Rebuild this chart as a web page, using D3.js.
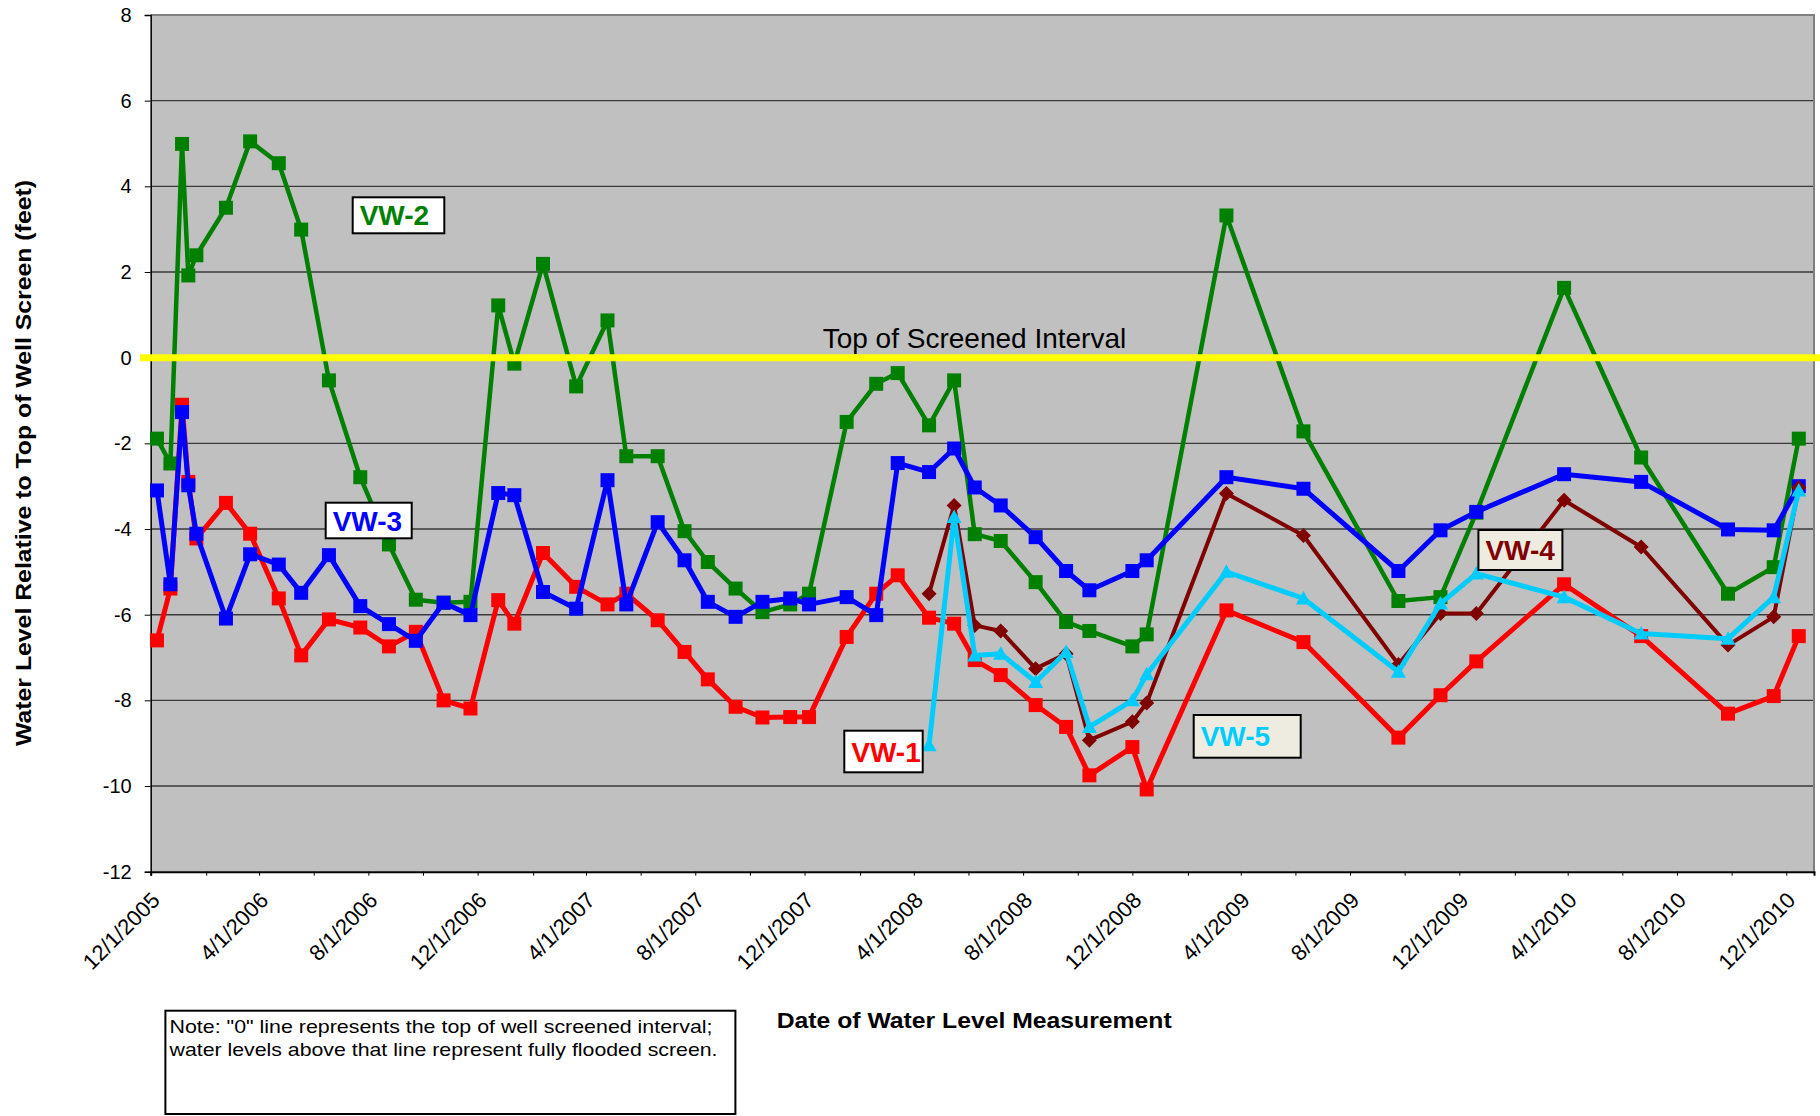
<!DOCTYPE html>
<html>
<head>
<meta charset="utf-8">
<script src="https://cdn.jsdelivr.net/npm/d3@7"></script>
<style>
  body { margin: 0; background: #fff; }
  svg { display: block; }
  text { font-family: "Liberation Sans", Arial, sans-serif; }
</style>
</head>
<body>
<svg></svg>
<script>
// measurement dates shared by VW-1, VW-2, VW-3
var dates = ["2005-12-08","2005-12-23","2006-01-05","2006-01-12","2006-01-21","2006-02-23","2006-03-22",
  "2006-04-23","2006-05-18","2006-06-18","2006-07-23","2006-08-24","2006-09-23","2006-10-24","2006-11-23",
  "2006-12-24","2007-01-11","2007-02-12","2007-03-21","2007-04-25","2007-05-16","2007-06-20","2007-07-20",
  "2007-08-15","2007-09-15","2007-10-15","2007-11-15","2007-12-06","2008-01-17","2008-02-19","2008-03-14",
  "2008-04-18","2008-05-16","2008-06-08","2008-07-07","2008-08-15","2008-09-18","2008-10-14","2008-12-01",
  "2008-12-17","2009-03-16","2009-06-10","2009-09-24","2009-11-10","2009-12-20","2010-03-28","2010-06-22",
  "2010-09-27","2010-11-17","2010-12-15"];

var vw1 = [-6.60,-5.39,-1.10,-2.90,-4.22,-3.39,-4.11,-5.62,-6.95,-6.11,-6.30,-6.74,-6.40,-8.00,-8.19,
  -5.66,-6.21,-4.56,-5.35,-5.76,-5.51,-6.13,-6.87,-7.51,-8.15,-8.40,-8.39,-8.39,-6.52,-5.51,-5.08,
  -6.07,-6.21,-7.06,-7.41,-8.11,-8.62,-9.75,-9.09,-10.08,-5.90,-6.64,-8.87,-7.88,-7.09,-5.29,-6.50,
  -8.31,-7.90,-6.50];

var vw2 = [-1.89,-2.47,4.99,1.92,2.39,3.50,5.05,4.54,2.99,-0.53,-2.79,-4.36,-5.65,-5.72,-5.70,
  1.22,-0.14,2.19,-0.67,0.87,-2.30,-2.30,-4.05,-4.77,-5.39,-5.94,-5.76,-5.51,-1.50,-0.61,-0.36,
  -1.58,-0.53,-4.12,-4.28,-5.24,-6.17,-6.38,-6.74,-6.46,3.32,-1.72,-5.68,-5.59,-3.62,1.63,-2.33,
  -5.51,-4.89,-1.89];

var vw3 = [-3.10,-5.29,-1.27,-2.98,-4.11,-6.09,-4.59,-4.83,-5.49,-4.61,-5.80,-6.22,-6.61,-5.72,-6.01,
  -3.16,-3.21,-5.47,-5.86,-2.86,-5.76,-3.84,-4.73,-5.70,-6.05,-5.70,-5.62,-5.76,-5.59,-6.01,-2.46,
  -2.67,-2.12,-3.03,-3.45,-4.19,-4.98,-5.43,-4.98,-4.73,-2.79,-3.06,-4.98,-4.03,-3.60,-2.72,-2.90,
  -4.01,-4.03,-3.00];

// VW-4 and VW-5 were added in spring 2008
var datesNew = ["2008-04-18","2008-05-16","2008-06-08","2008-07-07","2008-08-15","2008-09-18","2008-10-14",
  "2008-12-01","2008-12-17","2009-03-16","2009-06-10","2009-09-24","2009-11-10","2009-12-20","2010-03-28",
  "2010-06-22","2010-09-27","2010-11-17","2010-12-15"];

var vw4 = [-5.51,-3.45,-6.25,-6.38,-7.26,-6.91,-8.93,-8.50,-8.06,-3.17,-4.15,-7.16,-5.97,-5.97,-3.33,
  -4.42,-6.71,-6.05,-3.03];

var vw5 = [-9.05,-3.72,-6.95,-6.91,-7.57,-6.87,-8.62,-8.00,-7.39,-5.00,-5.62,-7.33,-5.74,-5.04,-5.59,
  -6.44,-6.56,-5.59,-3.10];

var yTicks = [-12,-10,-8,-6,-4,-2,0,2,4,6,8];
var screenTop = 0;

var width = 1820, height = 1116;
var svg = d3.select("svg").attr("width", width).attr("height", height);

var parse = d3.timeParse("%Y-%m-%d");
var fmt = d3.timeFormat("%-m/%-d/%Y");

var plotL = 150.7, plotR = 1814, plotT = 15, plotB = 871.7;

var x = d3.scaleTime()
    .domain([parse("2005-12-01"), parse("2011-01-01")])
    .range([plotL, plotR]);
var y = d3.scaleLinear().domain([-12, 8]).range([plotB, plotT]);

// plot area
svg.append("rect")
    .attr("x", plotL).attr("y", plotT)
    .attr("width", plotR - plotL).attr("height", plotB - plotT)
    .attr("fill", "#c0c0c0");

svg.append("g")
    .selectAll("line")
    .data(yTicks.filter(d => d > -12 && d < 8))
    .enter()
    .append("line")
    .attr("x1", plotL).attr("x2", plotR)
    .attr("y1", d => y(d)).attr("y2", d => y(d))
    .attr("stroke", "#3a3a3a")
    .attr("stroke-width", 1.4);

// gray border top / right
svg.append("path")
    .attr("d", `M${plotL},${plotT}H${plotR}V${plotB}`)
    .attr("fill", "none")
    .attr("stroke", "#808080")
    .attr("stroke-width", 2);

// y axis
var yAxis = svg.append("g")
    .attr("transform", `translate(${plotL},0)`)
    .call(d3.axisLeft(y).tickValues(yTicks).tickSize(6).tickFormat(d => String(d)));
yAxis.select(".domain").attr("stroke", "#000").attr("stroke-width", 1.5);
yAxis.selectAll(".tick line").attr("stroke", "#000");
yAxis.selectAll("text")
    .attr("font-size", 20)
    .attr("font-family", "Liberation Sans, Arial, sans-serif")
    .attr("fill", "#000")
    .attr("x", -19);

// x axis: tick every 2 months, label every 4 months
var monthTicks = d3.timeMonth.range(parse("2005-12-01"), parse("2011-01-01"), 2);
var xAxis = svg.append("g")
    .attr("transform", `translate(0,${plotB})`)
    .call(d3.axisBottom(x).tickValues(monthTicks).tickSize(4)
        .tickFormat((d, i) => i % 2 ? "" : fmt(d)));
xAxis.select(".domain").attr("stroke", "#000").attr("stroke-width", 2);
xAxis.selectAll(".tick line").attr("stroke", "#000");
xAxis.selectAll("text")
    .attr("font-size", 22)
    .attr("font-family", "Liberation Sans, Arial, sans-serif")
    .attr("fill", "#000")
    .attr("text-anchor", "end")
    .attr("y", 0).attr("dy", 0)
    .attr("transform", "translate(10,30) rotate(-45)");

// series
var series = [
  {name: "VW-1", dates: dates, values: vw1, color: "#ff0000", width: 5, marker: "square"},
  {name: "VW-2", dates: dates, values: vw2, color: "#008000", width: 4.5, marker: "square"},
  {name: "VW-3", dates: dates, values: vw3, color: "#0000ff", width: 5, marker: "square"},
  {name: "VW-4", dates: datesNew, values: vw4, color: "#800000", width: 4, marker: "diamond"},
  {name: "VW-5", dates: datesNew, values: vw5, color: "#00ccff", width: 5, marker: "triangle"}
];

var line = d3.line().x(d => x(d.date)).y(d => y(d.value));

var markerPath = {
  square: "M-7,-7H7V7H-7Z",
  diamond: "M0,-7.5L7.5,0L0,7.5L-7.5,0Z",
  triangle: "M0,-7.5L7.5,6L-7.5,6Z"
};

series.forEach(function(s) {
  var pts = s.dates.map((d, i) => ({date: parse(d), value: s.values[i]}));
  var g = svg.append("g");
  g.append("path")
      .datum(pts)
      .attr("d", line)
      .attr("fill", "none")
      .attr("stroke", s.color)
      .attr("stroke-width", s.width)
      .attr("stroke-linejoin", "round");
  g.selectAll("path.m")
      .data(pts)
      .enter()
      .append("path")
      .attr("class", "m")
      .attr("d", markerPath[s.marker])
      .attr("transform", d => `translate(${x(d.date)},${y(d.value)})`)
      .attr("fill", s.color);
});

// top of screened interval
svg.append("line")
    .attr("x1", 140).attr("x2", 1820)
    .attr("y1", y(screenTop)).attr("y2", y(screenTop))
    .attr("stroke", "#ffff00")
    .attr("stroke-width", 7);

svg.append("text")
    .attr("x", 822.7).attr("y", 348)
    .attr("font-size", 28)
    .text("Top of Screened Interval");

// series labels
var labels = [
  {text: "VW-2", x: 352.7, y: 197.3, w: 91.6, h: 36, color: "#008000", bg: "#fff"},
  {text: "VW-3", x: 325.7, y: 502.7, w: 86, h: 35.6, color: "#0000ff", bg: "#fff"},
  {text: "VW-1", x: 844.3, y: 730.7, w: 78.4, h: 41.6, color: "#ff0000", bg: "#fff"},
  {text: "VW-4", x: 1478.4, y: 530, w: 84, h: 40, color: "#800000", bg: "#eeece1"},
  {text: "VW-5", x: 1193.7, y: 715, w: 107, h: 42.7, color: "#00ccff", bg: "#eeece1"}
];
var lab = svg.append("g")
    .selectAll("g")
    .data(labels)
    .enter()
    .append("g");
lab.append("rect")
    .attr("x", d => d.x).attr("y", d => d.y)
    .attr("width", d => d.w).attr("height", d => d.h)
    .attr("fill", d => d.bg)
    .attr("stroke", "#000")
    .attr("stroke-width", 2);
lab.append("text")
    .attr("x", d => d.x + 7).attr("y", d => d.y + d.h / 2 + 10)
    .attr("font-size", 28)
    .attr("font-weight", "bold")
    .attr("fill", d => d.color)
    .text(d => d.text);

// axis titles
svg.append("text")
    .attr("transform", "translate(31,463) rotate(-90)")
    .attr("text-anchor", "middle")
    .attr("font-size", 22)
    .attr("font-weight", "bold")
    .attr("textLength", 566)
    .attr("lengthAdjust", "spacingAndGlyphs")
    .text("Water Level Relative to Top of Well Screen (feet)");

svg.append("text")
    .attr("x", 776.7).attr("y", 1027.7)
    .attr("font-size", 22)
    .attr("font-weight", "bold")
    .attr("textLength", 395)
    .attr("lengthAdjust", "spacingAndGlyphs")
    .text("Date of Water Level Measurement");

// note box
svg.append("rect")
    .attr("x", 165.4).attr("y", 1010.7)
    .attr("width", 570).attr("height", 103.3)
    .attr("fill", "#fff")
    .attr("stroke", "#000")
    .attr("stroke-width", 2);
var noteLines = [
  {t: "Note: \"0\" line represents the top of well screened interval;", y: 1033.3, len: 543},
  {t: "water levels above that line represent fully flooded screen.", y: 1055.5, len: 548}
];
svg.append("g")
    .selectAll("text")
    .data(noteLines)
    .enter()
    .append("text")
    .attr("x", 169.5).attr("y", d => d.y)
    .attr("font-size", 19)
    .attr("textLength", d => d.len)
    .attr("lengthAdjust", "spacingAndGlyphs")
    .text(d => d.t);
</script>
</body>
</html>
